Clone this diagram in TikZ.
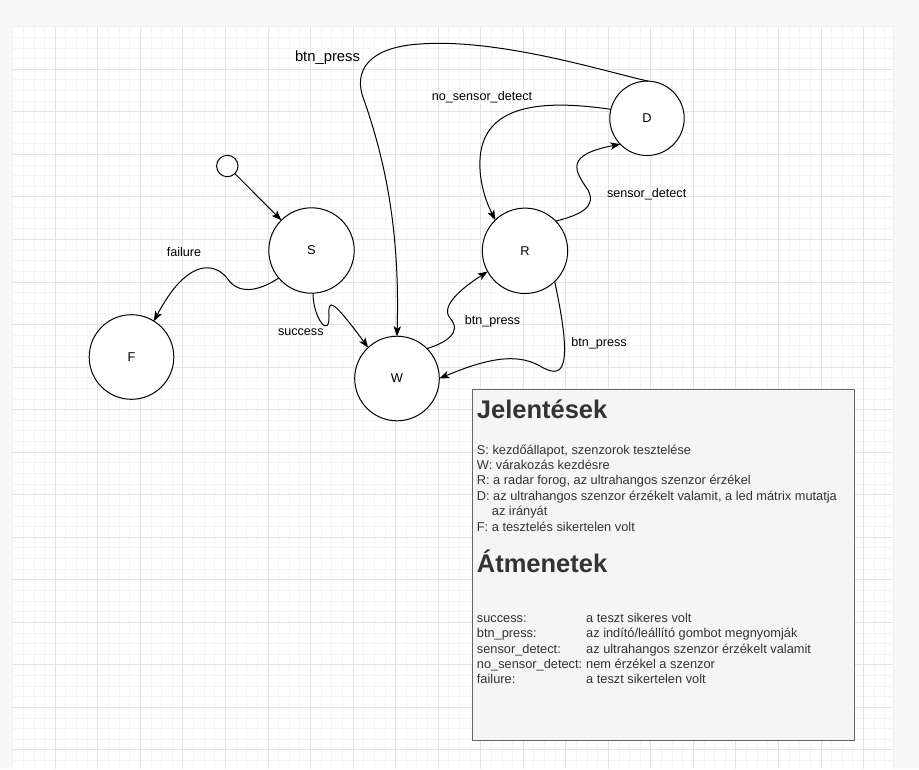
\documentclass[tikz,border=0pt]{standalone}
\usepackage{fontspec}
\setmainfont{Liberation Sans}
\usetikzlibrary{arrows.meta}
\definecolor{outerbg}{HTML}{F8F8F8}
\definecolor{minorgrid}{HTML}{F4F4F4}
\definecolor{majorgrid}{HTML}{E3E3E3}
\definecolor{boxfill}{HTML}{F5F5F5}
\definecolor{boxline}{HTML}{666666}
\definecolor{boxtext}{HTML}{333333}

\begin{document}
\begin{tikzpicture}[x=1pt,y=-1pt,
    state/.style={draw,circle,fill=white,minimum size=85.4pt,inner sep=0pt,outer sep=0pt,line width=1pt,font=\fontsize{12.8}{15}\selectfont},
    start/.style={draw,circle,fill=white,minimum size=21.4pt,inner sep=0pt,outer sep=0pt,line width=1pt},
    arr/.style={line width=1pt,-{Stealth[length=10pt,width=7.5pt,inset=2.5pt]}},
    lbl/.style={anchor=base,inner sep=0pt,font=\fontsize{12.6}{15}\selectfont},
    txt/.style={anchor=base west,inner sep=0pt,text=boxtext,font=\fontsize{12.8}{15.4}\selectfont},
    head/.style={anchor=base west,inner sep=0pt,text=boxtext,font=\fontsize{25.5}{30}\selectfont\bfseries}]
        \useasboundingbox (0,0) rectangle (919,769);
        \fill[outerbg] (0,0) rectangle (919,769);
        \fill[black!6] (11.7,25.7) rectangle (894.3,769);
        \fill[white] (12.7,26.7) rectangle (893.3,769);
        % grid
        \pgfmathsetmacro{\g}{10.635}
        \foreach \i in {1,...,82} \draw[minorgrid,line width=0.8pt] ({12.7+\i*\g},26.7) -- ({12.7+\i*\g},769);
        \foreach \i in {1,...,69} \draw[minorgrid,line width=0.8pt] (12.7,{26.7+\i*\g}) -- (893.3,{26.7+\i*\g});
        \foreach \i in {1,...,20} \draw[majorgrid,line width=0.8pt] ({12.7+\i*4*\g},26.7) -- ({12.7+\i*4*\g},769);
        \foreach \i in {1,...,17} \draw[majorgrid,line width=0.8pt] (12.7,{26.7+\i*4*\g}) -- (893.3,{26.7+\i*4*\g});

        % states
        \node[start] (init) at (227.3,166) {};
        \node[state] (S) at (311.5,250.5) {S};
        \node[state,minimum size=84.6pt] (F) at (131.5,357) {F};
        \node[state,minimum size=84.6pt] (W) at (397,378.5) {W};
        \node[state] (R) at (525,250.8) {R};
        \node[state,minimum size=74.4pt] (D) at (647,118.3) {D};

        % transitions
        \draw[arr] (init) -- (S);
        \draw[arr] (S.220) .. controls (264,288) and (240,298) .. (227,278) .. controls (212,260) and (185,262) .. (F.58);
        \draw[arr] (S.272) .. controls (313,318) and (330,340) .. (329,315) .. controls (328,298) and (333,300) .. (W.133);
        \draw[arr] (W.45) .. controls (445,343) and (463,333) .. (450,318) .. controls (440,306) and (462,288) .. (R.209);
        \draw[arr] (R.-46) .. controls (563,320) and (567,350) .. (563,363) .. controls (560,375) and (550,372) .. (540,366) .. controls (520,355) and (495,355) .. (W.east);
        \draw[arr] (R.44) .. controls (580,215) and (597,207) .. (588,190) .. controls (574,170) and (565,155) .. (D.224);
        \draw[arr] (D.166) .. controls (560,102) and (500,100) .. (484,140) .. controls (476,160) and (480,190) .. (R.134);
        \draw[arr] (D.88) .. controls (610,73) and (500,38) .. (420,44) .. controls (370,47) and (352,70) .. (364,100) .. controls (385,160) and (400,230) .. (W.north);

        \node[lbl,font=\fontsize{14.8}{17}\selectfont] (lDW) at (327.5,61) {btn\_press};
        \node[lbl] (lDR) at (482,100) {no\_sensor\_detect};
        \node[lbl] (lRD) at (646.7,197.3) {sensor\_detect};
        \node[lbl] (lSF) at (184,256) {failure};
        \node[lbl] (lSW) at (300.8,335) {success};
        \node[lbl] (lWR) at (492.5,324) {btn\_press};
        \node[lbl] (lRW) at (599,346) {btn\_press};

        % legend
        \node[draw=boxline,fill=boxfill,line width=1pt,minimum width=382.6pt,minimum height=350.7pt,anchor=north west,inner sep=0pt] (legend) at (471.7,389.3) {};
        \node[head] (h1) at (476.7,418.3) {Jelentések};
        \node[txt] (m1) at (476.7,454) {S: kezdőállapot, szenzorok tesztelése};
        \node[txt] (m2) at (476.7,469.3) {W: várakozás kezdésre};
        \node[txt] (m3) at (476.7,484.7) {R: a radar forog, az ultrahangos szenzor érzékel};
        \node[txt] (m4) at (476.7,500) {D: az ultrahangos szenzor érzékelt valamit, a led mátrix mutatja};
        \node[txt] (m5) at (491.7,515.7) {az irányát};
        \node[txt] (m6) at (476.7,531) {F: a tesztelés sikertelen volt};
        \node[head] (h2) at (476.7,572.7) {Átmenetek};
        \foreach \k/\v [count=\n] in {success:/{a teszt sikeres volt}, btn\_press:/{az indító/leállító gombot megnyomják},
            sensor\_detect:/{az ultrahangos szenzor érzékelt valamit}, no\_sensor\_detect:/{nem érzékel a szenzor},
            failure:/{a teszt sikertelen volt}} {
          \node[txt] (k\n) at (476.7,{622.7+(\n-1)*15.15}) {\k};
          \node[txt] (v\n) at (586,{622.7+(\n-1)*15.15}) {\v};
        }
\end{tikzpicture}
\end{document}
